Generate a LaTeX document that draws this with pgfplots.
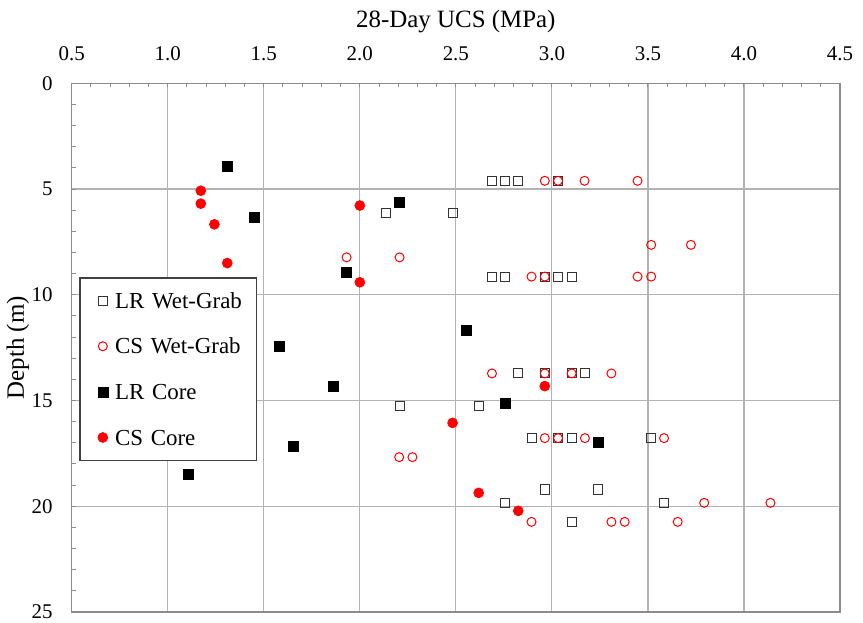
\documentclass[border=0pt]{standalone}
\usepackage{fontspec}
\setmainfont{Liberation Serif}
\usepackage{pgfplots}
\pgfplotsset{compat=1.18}
\pgfplotsset{
  pts/.style={only marks,
    legend image code/.code={\path (-11.15bp,0bp) (2.7bp,0bp); \draw[##1] plot coordinates {(0bp,0bp)};}},
}
\begin{document}
\begin{tikzpicture}
\begin{axis}[
  width=384bp, height=264.2bp, scale only axis,
  xmin=0.5, xmax=4.5, ymin=0, ymax=25, y dir=reverse,
  xtick={0.5,1.0,...,4.5}, ytick={0,5,...,25},
  minor x tick num=4, minor y tick num=4,
  xtick pos=right, xticklabel pos=right, ytick pos=left,
  tick align=inside, major tick length=2bp, minor tick length=2bp,
  every tick/.style={black!45, line width=0.5bp},
  grid=major, major grid style={color=black!30, line width=0.6bp},
  axis line style={black!45, line width=0.7bp},
  /pgf/number format/assume math mode=true,
  tick label style={font=\fontsize{10.5}{12.6}\selectfont},
  xticklabel style={anchor=base, yshift=11.3bp, /pgf/number format/.cd, fixed, fixed zerofill, precision=1},
  yticklabel style={xshift=-6bp},
  xlabel={28-Day UCS (MPa)}, ylabel={Depth (m)},
  label style={font=\fontsize{12.5}{15}\selectfont},
  xlabel style={at={([yshift=28bp]axis cs:2.5,0)}, anchor=base},
  ylabel style={at={([xshift=-23.9bp]axis cs:0.5,12.5)}, anchor=base},
  legend cell align=left,
  legend style={at={(axis cs:0.538,9.164)}, anchor=north west,
    draw=black!75, line width=0.75bp, fill=white,
    inner xsep=0pt, inner ysep=0pt, row sep=0pt, column sep=0pt,
    font=\fontsize{11.5}{13.8}\selectfont,
    nodes={inner xsep=3.1bp, inner ysep=0pt, text height=7.6bp, text depth=0pt,
      minimum height=22.8bp, text width=67.5bp, align=left}},
]
\addplot[pts, color=black!80, mark=square, mark size=2.25bp, mark options={line width=0.5bp, fill=none}] table {
x y
2.690 4.61
2.756 4.61
2.825 4.61
3.032 4.61
2.138 6.11
2.483 6.11
2.690 9.14
2.756 9.14
2.963 9.14
3.032 9.14
3.103 9.14
2.825 13.72
2.963 13.72
3.103 13.72
3.172 13.72
2.207 15.24
2.619 15.24
2.894 16.78
3.032 16.78
3.103 16.78
3.515 16.78
2.963 19.21
3.239 19.21
2.757 19.84
3.584 19.84
3.103 20.74
};
\addlegendentry{LR Wet-Grab}
\addplot[pts, color=red, mark=o, mark size=2.25bp, mark options={line width=0.5bp, fill=none}] table {
x y
2.963 4.61
3.032 4.61
3.170 4.61
3.446 4.61
3.517 7.64
3.724 7.64
1.931 8.23
2.207 8.23
2.894 9.14
2.963 9.14
3.446 9.14
3.517 9.14
2.688 13.72
2.963 13.72
3.103 13.72
3.310 13.72
2.963 16.78
3.032 16.78
3.172 16.78
3.584 16.78
2.205 17.68
2.274 17.68
3.793 19.84
4.138 19.84
2.894 20.74
3.310 20.74
3.379 20.74
3.655 20.74
};
\addlegendentry{CS Wet-Grab}
\addplot[pts, color=black, mark=square*, mark size=2.5bp, mark options={line width=0.3bp}] table {
x y
1.310 3.92
2.207 5.62
1.448 6.32
1.931 8.92
2.552 11.67
1.583 12.45
1.862 14.35
2.757 15.14
3.240 16.96
1.655 17.16
1.107 18.47
};
\addlegendentry{LR Core}
\addplot[pts, color=red, mark=*, mark size=2.5bp, mark options={line width=0.3bp}] table {
x y
1.172 5.08
1.172 5.69
1.243 6.67
1.310 8.50
2.000 5.78
2.000 9.41
2.963 14.32
2.483 16.06
2.619 19.37
2.825 20.22
};
\addlegendentry{CS Core}
\coordinate (ll) at (axis cs:0.5,25);
\coordinate (ur) at (axis cs:4.5,0);
\end{axis}
\pgfresetboundingbox
\path ([shift={(-35.85bp,-5.15bp)}]ll) rectangle ([shift={(11.5bp,41.65bp)}]ur);
\end{tikzpicture}
\end{document}
